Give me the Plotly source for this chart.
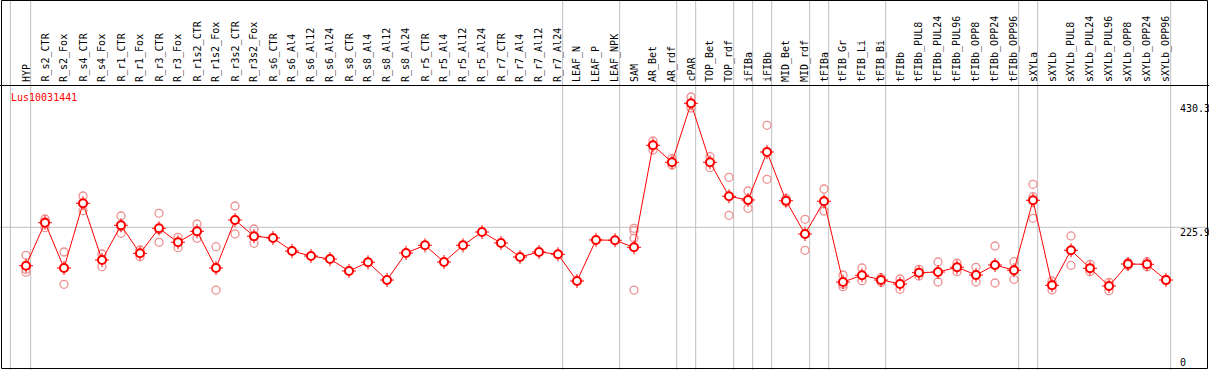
import plotly.graph_objects as go

W, H = 1209, 370

categories = ["HYP", "R_s2_CTR", "R_s2_Fox", "R_s4_CTR", "R_s4_Fox", "R_r1_CTR", "R_r1_Fox",
              "R_r3_CTR", "R_r3_Fox", "R_r1s2_CTR", "R_r1s2_Fox", "R_r3s2_CTR", "R_r3s2_Fox",
              "R_s6_CTR", "R_s6_Al4", "R_s6_Al12", "R_s6_Al24", "R_s8_CTR", "R_s8_Al4", "R_s8_Al12",
              "R_s8_Al24", "R_r5_CTR", "R_r5_Al4", "R_r5_Al12", "R_r5_Al24", "R_r7_CTR", "R_r7_Al4",
              "R_r7_Al12", "R_r7_Al24", "LEAF_N", "LEAF_P", "LEAF_NPK", "SAM", "AR_Bet", "AR_rdf",
              "cPAR", "TOP_Bet", "TOP_rdf", "iFIBa", "iFIBb", "MID_Bet", "MID_rdf", "tFIBa",
              "tFIB_Gr", "tFIB_Li", "tFIB_Bi", "tFIBb", "tFIBb_PUL8", "tFIBb_PUL24", "tFIBb_PUL96",
              "tFIBb_OPP8", "tFIBb_OPP24", "tFIBb_OPP96", "sXYLa", "sXYLb", "sXYLb_PUL8",
              "sXYLb_PUL24", "sXYLb_PUL96", "sXYLb_OPP8", "sXYLb_OPP24", "sXYLb_OPP96"]

mean_values = [162.6, 233.5, 158.8, 265.5, 172.0, 229.2, 183.0, 224.2, 201.2, 219.3, 158.8,
               237.9, 211.1, 208.3, 186.8, 178.6, 173.6, 153.9, 168.2, 139.0, 183.5, 196.2,
               168.7, 196.2, 218.1, 200.0, 176.9, 185.2, 181.4, 137.4, 205.0, 204.5, 192.9,
               361.1, 333.0, 430.3, 333.0, 277.0, 270.9, 350.0, 269.7, 214.9, 268.8, 135.7,
               146.8, 139.0, 132.4, 151.1, 152.2, 160.0, 147.3, 163.8, 155.0, 270.4, 130.3,
               188.0, 158.3, 129.1, 165.4, 164.9, 139.0]

replicates = [
    [179.7, 156.7, 152.0], [239.6, 225.2, 235.0], [185.2, 131.9, 159.0], [277.5, 253.3, 265.0],
    [181.9, 161.0, 173.0], [244.5, 216.0, 227.0], [188.5, 177.4, 183.0], [249.0, 201.2, 222.0],
    [209.4, 192.3, 202.0], [231.3, 207.8, 219.0], [193.9, 122.5, 160.0], [261.0, 214.9, 238.0],
    [223.1, 199.5, 211.0],
    [], [], [], [], [], [], [], [], [], [], [], [], [], [], [], [], [], [], [],
    [224.2, 220.3, 207.8, 122.5], [368.1, 353.3, 361.0], [339.6, 328.6, 333.0],
    [440.7, 422.5, 430.0], [342.3, 324.1, 333.0], [308.3, 245.7, 277.0], [285.7, 257.2, 271.0],
    [394.0, 305.0, 350.0], [273.7, 267.1, 269.0], [239.1, 188.0, 215.0], [289.0, 252.8, 269.0],
    [147.3, 128.0, 132.0], [158.8, 137.9, 147.0], [142.8, 135.2, 139.0], [140.7, 123.7, 133.0],
    [156.7, 145.6, 151.0], [168.7, 135.7, 152.0], [166.6, 152.7, 160.0], [160.0, 135.7, 147.0],
    [195.1, 134.1, 163.0], [169.2, 140.2, 155.0], [296.8, 276.3, 240.7], [137.4, 122.5, 131.0],
    [211.6, 163.3, 188.0], [164.9, 152.7, 158.0], [135.2, 121.4, 129.0], [168.2, 162.5, 165.0],
    [169.2, 161.0, 165.0], [140.0, 138.0, 139.0],
]

group_ends = ["HYP", "R_r7_Al24", "LEAF_NPK", "AR_rdf", "cPAR", "TOP_rdf", "iFIBa", "iFIBb",
              "MID_rdf", "tFIBa", "tFIB_Bi", "tFIBb_OPP96", "sXYLa", "sXYLb_OPP96"]

gene_name = "Lus10031441"
ytick_vals = [430.3, 225.9, 0]
ytick_text = ["430.3", "225.9", "0"]

FONT = "DejaVu Sans Mono"
idx = list(range(len(categories)))

rep_x, rep_y = [], []
for i, reps in enumerate(replicates):
    for v in reps:
        rep_x.append(i)
        rep_y.append(v)

fig = go.Figure()
fig.add_trace(go.Scatter(x=rep_x, y=rep_y, mode="markers",
                         marker=dict(symbol="circle-open", size=8, color="#ee9090",
                                     line=dict(width=1.3, color="#ee9090")),
                         hoverinfo="skip", showlegend=False))
fig.add_trace(go.Scatter(x=idx, y=mean_values, mode="lines",
                         line=dict(color="#ff0000", width=1), showlegend=False))
fig.add_trace(go.Scatter(x=idx, y=mean_values, mode="markers",
                         marker=dict(symbol="cross-thin-open", size=10, color="#ff0000",
                                     line=dict(width=1, color="#ff0000")),
                         showlegend=False, hoverinfo="skip"))
fig.add_trace(go.Scatter(x=idx, y=mean_values, mode="markers",
                         marker=dict(symbol="circle", size=8, color="white",
                                     line=dict(width=2, color="#ff0000")),
                         showlegend=False))

shapes = []
sep_positions = [-0.82] + [categories.index(c) + 0.245 for c in group_ends]
for sx in sep_positions:
    shapes.append(dict(type="line", xref="x", yref="paper", x0=sx, x1=sx, y0=0, y1=1,
                       line=dict(color="#c0c0c0", width=1), layer="below"))
shapes.append(dict(type="line", xref="paper", yref="y", x0=0, x1=1, y0=225.9, y1=225.9,
                   line=dict(color="#c0c0c0", width=1), layer="below"))
shapes.append(dict(type="line", xref="paper", yref="paper", x0=0, x1=1,
                   y0=1 - 85.5 / H, y1=1 - 85.5 / H, line=dict(color="black", width=1)))
shapes.append(dict(type="rect", xref="paper", yref="paper", x0=1.5 / W, x1=1207.5 / W,
                   y0=1 - 368.5 / H, y1=1 - 0.5 / H, line=dict(color="black", width=1)))

annotations = []
for i, c in enumerate(categories):
    annotations.append(dict(x=i, xref="x", y=1 - 84 / H, yref="paper", text=c,
                            textangle=-90, showarrow=False, xanchor="center", yanchor="bottom",
                            font=dict(family=FONT, size=10, color="black")))
annotations.append(dict(x=8.5 / W, xref="paper", y=1 - 97.3 / H, yref="paper", text=gene_name,
                        showarrow=False, xanchor="left", yanchor="middle",
                        font=dict(family=FONT, size=10, color="#ff0000")))
for v, t in zip(ytick_vals, ytick_text):
    annotations.append(dict(x=1177.5 / W, xref="paper", y=v, yref="y", text=t, showarrow=False,
                            xanchor="left", yanchor="bottom" if v == 0 else "top",
                            yshift=-6 if v == 0 else 2,
                            font=dict(family=FONT, size=10, color="black")))

px_per_unit = 0.6067
zero_px = 364.35
y0 = -(H - zero_px) / px_per_unit
y1 = y0 + H / px_per_unit
x0 = -26 / 19
x1 = x0 + W / 19

fig.update_layout(
    width=W, height=H, margin=dict(l=0, r=0, t=0, b=0),
    paper_bgcolor="white", plot_bgcolor="white",
    xaxis=dict(range=[x0, x1], visible=False, fixedrange=True),
    yaxis=dict(range=[y0, y1], visible=False, fixedrange=True),
    shapes=shapes, annotations=annotations, showlegend=False,
)

fig.write_html("out.html", config={"displayModeBar": False},
               post_script="document.body.style.margin='0';document.body.style.overflow='hidden';")
